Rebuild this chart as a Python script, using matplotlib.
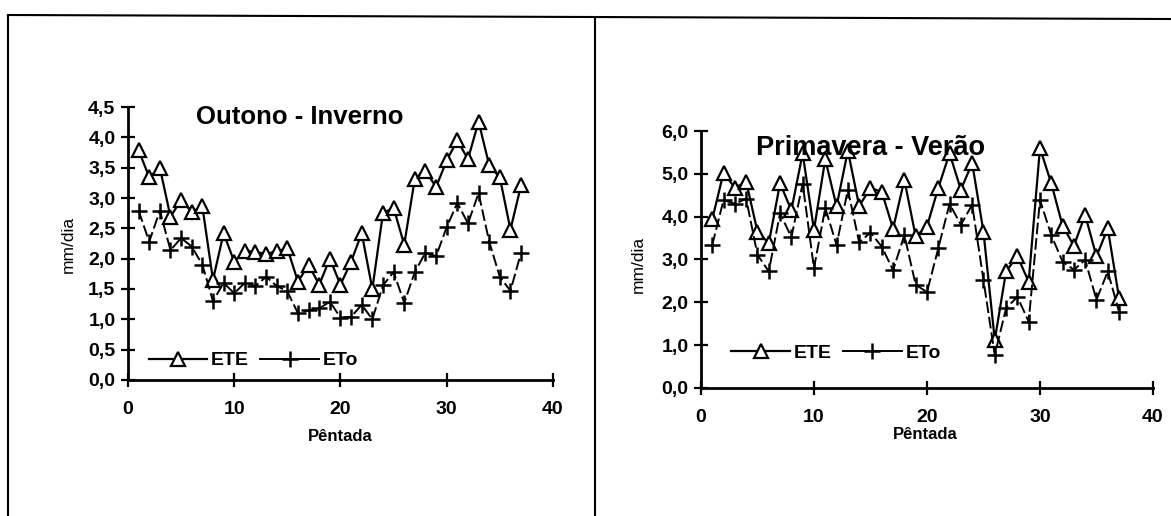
import matplotlib
matplotlib.use("Agg")
import matplotlib.pyplot as plt
from matplotlib.lines import Line2D
from matplotlib.ticker import FuncFormatter

plt.rcParams["font.family"] = ["Liberation Sans", "DejaVu Sans"]

# ============================================================
# DADOS
# ============================================================

pentada = list(range(1, 38))

# Outono - Inverno
ete_oi = [3.79, 3.34, 3.50, 2.69, 2.97, 2.77, 2.86, 1.65, 2.42, 1.95,
          2.13, 2.11, 2.08, 2.12, 2.17, 1.62, 1.90, 1.57, 2.00, 1.57,
          1.95, 2.42, 1.50, 2.75, 2.84, 2.23, 3.32, 3.45, 3.18, 3.62,
          3.95, 3.64, 4.26, 3.54, 3.34, 2.48, 3.21]
eto_oi = [2.79, 2.28, 2.79, 2.14, 2.34, 2.20, 1.90, 1.30, 1.60, 1.43,
          1.60, 1.55, 1.70, 1.55, 1.46, 1.10, 1.15, 1.18, 1.29, 1.03,
          1.04, 1.24, 1.00, 1.56, 1.78, 1.27, 1.78, 2.10, 2.04, 2.52,
          2.92, 2.58, 3.08, 2.28, 1.70, 1.47, 2.10]

# Primavera - Verão
ete_pv = [3.94, 5.03, 4.67, 4.82, 3.65, 3.38, 4.78, 4.15, 5.48, 3.69,
          5.34, 4.24, 5.54, 4.25, 4.67, 4.58, 3.72, 4.86, 3.54, 3.77,
          4.67, 5.48, 4.63, 5.25, 3.65, 1.12, 2.72, 3.08, 2.48, 5.60,
          4.78, 3.79, 3.32, 4.04, 3.07, 3.73, 2.10]
eto_pv = [3.34, 4.39, 4.30, 4.42, 3.11, 2.72, 4.08, 3.52, 4.77, 2.80,
          4.20, 3.34, 4.63, 3.40, 3.63, 3.30, 2.75, 3.57, 2.41, 2.24,
          3.26, 4.30, 3.81, 4.28, 2.52, 0.77, 1.86, 2.13, 1.55, 4.39,
          3.57, 2.95, 2.76, 2.99, 2.06, 2.72, 1.78]

virgula = FuncFormatter(lambda v, p: f"{v:.1f}".replace(".", ","))


def painel(ax, ete, eto, titulo, tam_titulo, ymax, ystep, pos_titulo,
           pos_leg, pos_xl, pos_yl):
    ax.plot(pentada, ete, color="black", lw=1.6, marker="^", ms=10.5,
            mfc="white", mec="black", mew=1.6, label="ETE", clip_on=False)
    ax.plot(pentada, eto, color="black", lw=1.4, ls=(0, (6, 2)), marker="+",
            ms=11, mew=1.8, label="ETo", clip_on=False)

    ax.set_xlim(0, 40)
    ax.set_ylim(0, ymax)
    ax.set_xticks([0, 10, 20, 30, 40])
    n = int(round(ymax / ystep))
    ax.set_yticks([i * ystep for i in range(n + 1)])
    ax.yaxis.set_major_formatter(virgula)

    for s in ["top", "right"]:
        ax.spines[s].set_visible(False)
    for s in ["left", "bottom"]:
        ax.spines[s].set_linewidth(2)

    ax.tick_params(axis="both", direction="inout", length=10, width=1.6,
                   labelsize=14)
    ax.tick_params(axis="x", pad=10)
    ax.tick_params(axis="y", pad=4)
    for t in ax.get_xticklabels() + ax.get_yticklabels():
        t.set_fontweight("bold")

    ax.text(pos_titulo[0], pos_titulo[1], titulo, transform=ax.transAxes,
            ha="center", va="center", fontsize=tam_titulo, fontweight="bold")

    ax.set_xlabel("Pêntada", fontsize=12, fontweight="bold")
    ax.xaxis.set_label_coords(*pos_xl)
    ax.set_ylabel("mm/dia", fontsize=12.5)
    ax.yaxis.set_label_coords(*pos_yl)

    leg = ax.legend(loc="lower left", bbox_to_anchor=pos_leg, ncol=2,
                    frameon=False, handlelength=3.0, handletextpad=0.2,
                    columnspacing=0.6, borderaxespad=0,
                    prop={"size": 14, "weight": "bold"})
    for h in leg.legend_handles:
        h.set_linestyle("-")


fig = plt.figure(figsize=(11.71, 5.16), dpi=100)

ax1 = fig.add_axes([0.1093, 0.2636, 0.3629, 0.5290])
painel(ax1, ete_oi, eto_oi, "Outono - Inverno", 18.5, 4.5, 0.5,
       (0.405, 0.965), (0.03, 0.01), (0.499, -0.18), (-0.122, 0.495))

ax2 = fig.add_axes([0.5986, 0.2481, 0.3860, 0.4980])
painel(ax2, ete_pv, eto_pv, "Primavera - Verão", 19.5, 6.0, 1.0,
       (0.374, 0.934), (0.05, 0.07), (0.496, -0.150), (-0.121, 0.479))

# molduras do documento
fig.add_artist(Line2D([8 / 1171, 1.0], [1 - 15 / 516, 1 - 19 / 516],
                      transform=fig.transFigure, color="black", lw=1.5))
fig.add_artist(Line2D([8 / 1171, 8 / 1171], [0, 1 - 15 / 516],
                      transform=fig.transFigure, color="black", lw=1.5))
fig.add_artist(Line2D([595 / 1171, 595 / 1171], [0, 1 - 17 / 516],
                      transform=fig.transFigure, color="black", lw=1.5))

fig.savefig("out.png", dpi=100)
plt.close()
